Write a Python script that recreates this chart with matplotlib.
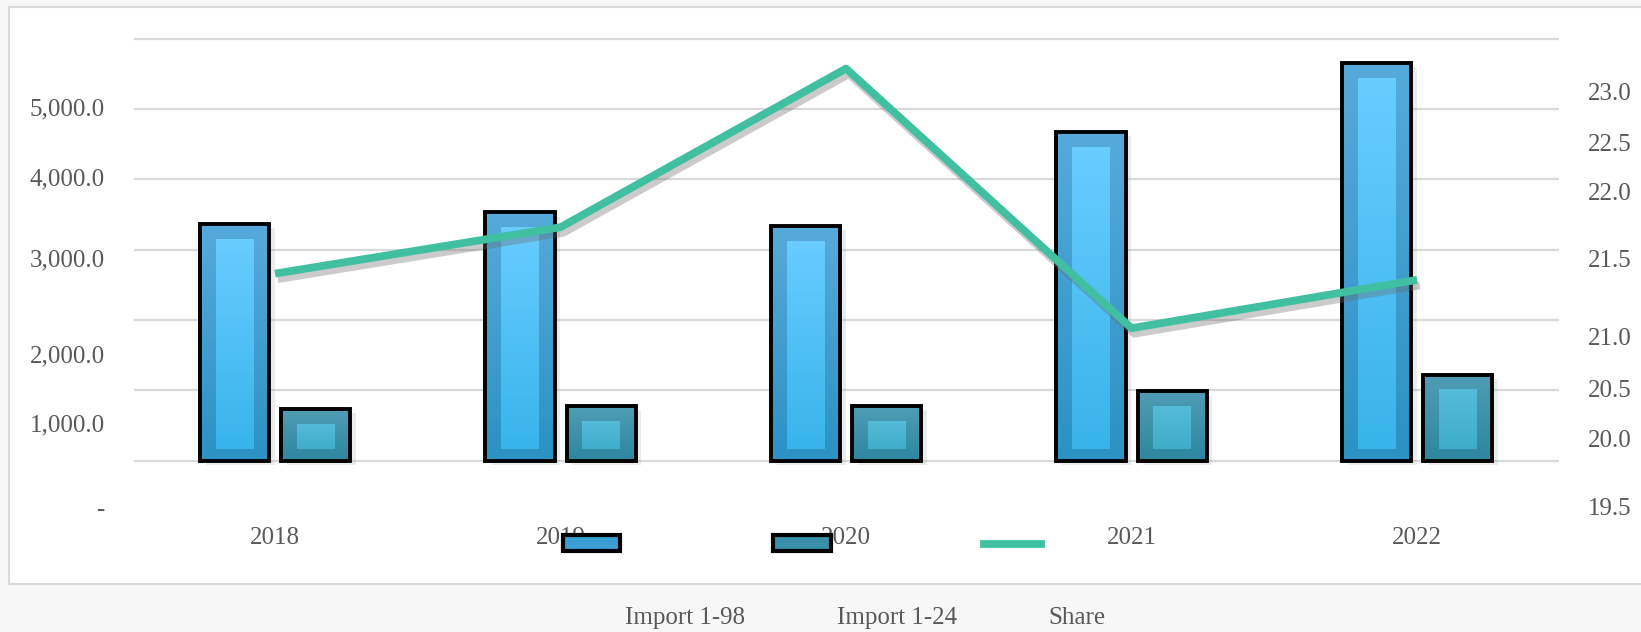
import numpy as np
import matplotlib
matplotlib.use("Agg")
import matplotlib.pyplot as plt
import matplotlib.patheffects as pe
from matplotlib.colors import LinearSegmentedColormap
from matplotlib.patches import Patch, Rectangle
from matplotlib.lines import Line2D

plt.rcParams['font.family'] = ['Liberation Serif', 'DejaVu Serif']

years = ['2018', '2019', '2020', '2021', '2022']
import_198 = [3365, 3528, 3336, 4672, 5653]
import_124 = [735, 778, 778, 984, 1222]
share = [21.40, 21.73, 23.22, 21.05, 21.36]

left_labels = ['5,000.0', '4,000.0', '3,000.0', '2,000.0', '1,000.0', '-']
left_label_pos = [5028, 4033, 2881, 1517, 536, -672]     # as placed in the original
right_ticks = [19.5, 20.0, 20.5, 21.0, 21.5, 22.0, 22.5, 23.0]
# the original's right axis is not linear: knots of its scale (value -> height)
scale_vals = [19.0, 19.5, 20.0, 20.5, 21.0, 21.5, 22.0, 22.5, 23.0, 23.5, 24.0]
scale_h = [-574, -506, -438, -388, -336, -258, -191, -142, -91, -40, 11]

txt = '#595959'
fs = 18

fig = plt.figure(figsize=(16.41, 6.32), dpi=100, facecolor='#f7f7f7')
fig.patches.append(Rectangle((9 / 1641, 48 / 632), 1.0, 577 / 632, transform=fig.transFigure,
                             facecolor='white', edgecolor='#d9d9d9', lw=1.5, zorder=-10))

ax = fig.add_axes([134 / 1641, 112 / 632, 1425 / 1641, 490 / 632])
ax.patch.set_alpha(0)
x = np.arange(len(years))
off, w = 0.142, 0.242
inner_w = 0.133
top_in, bot_in = 213, 170


def grad_fill(a, patch, c_top, c_bot, z):
    cmap = LinearSegmentedColormap.from_list('g', [c_bot, c_top])
    x0, y0 = patch.get_x(), patch.get_y()
    a.imshow(np.linspace(0, 1, 64).reshape(-1, 1), cmap=cmap, origin='lower', aspect='auto',
             extent=[x0, x0 + patch.get_width(), y0, y0 + patch.get_height()], zorder=z)


specs = [(-off, import_198, ('#55aadb', '#2b92c3'), ('#68ccff', '#38b4ea')),
         (off, import_124, ('#4f9db4', '#2d869f'), ('#55bcd8', '#3fadca'))]
for dx, vals, outer, inner in specs:
    # soft shadow behind each bar
    ax.bar(x + dx, vals, w, facecolor='white', edgecolor='none', zorder=1.9,
           path_effects=[pe.SimplePatchShadow(offset=(4, -3), shadow_rgbFace='#999999', alpha=0.18),
                         pe.Normal()])
    bars = ax.bar(x + dx, vals, w, facecolor='none', edgecolor='black', lw=2.8, zorder=4)
    for b in bars:
        grad_fill(ax, b, outer[0], outer[1], 2)
    ins = ax.bar(x + dx, np.array(vals) - top_in - bot_in, inner_w, bottom=bot_in,
                 facecolor='none', edgecolor='none', zorder=3)
    for b in ins:
        grad_fill(ax, b, inner[0], inner[1], 3)

ax.set_xlim(-0.494, 4.497)
ax.set_ylim(-843, 6122)
ax.set_yticks(np.arange(0, 7000, 1000), minor=True)
ax.set_yticks(left_label_pos, left_labels)
ax.grid(which='minor', axis='y', color='#d9d9d9', lw=1.6, zorder=0)
ax.set_axisbelow(True)
ax.set_xticks(x, years)
ax.tick_params(axis='y', which='both', length=0, pad=21, labelsize=fs, labelcolor=txt)
ax.tick_params(axis='x', length=0, pad=5, labelsize=fs, labelcolor=txt)
for s in ax.spines.values():
    s.set_visible(False)

ax2 = ax.twinx()
fwd = lambda v: np.interp(v, scale_vals, scale_h)
inv = lambda h: np.interp(h, scale_h, scale_vals)
ax2.set_yscale('function', functions=(fwd, inv))
ax2.plot(x, share, color='#40c0a0', lw=5.6, solid_capstyle='butt', zorder=5,
         path_effects=[pe.SimpleLineShadow(offset=(2, -4), shadow_color='#6b6b6b', alpha=0.35),
                       pe.Normal()])
ax2.set_ylim(inv(-520), inv(-30))
ax2.set_yticks(right_ticks, ['%.1f' % t for t in right_ticks])
ax2.yaxis.set_minor_locator(matplotlib.ticker.NullLocator())
ax2.tick_params(axis='y', which='both', length=0, pad=21, labelsize=fs, labelcolor=txt)
for s in ax2.spines.values():
    s.set_visible(False)

handles = [Patch(facecolor='#3a9fd3', edgecolor='black', lw=3),
           Patch(facecolor='#3a8fa8', edgecolor='black', lw=3),
           Line2D([], [], color='#40c0a0', lw=5.6)]
fig.legend(handles, ['', '', ''], ncol=3, loc='center', bbox_to_anchor=(802 / 1641, 86 / 632),
           frameon=False, fontsize=17.5, handlelength=2.35, handleheight=0.6,
           handletextpad=0, columnspacing=6.3)
for lab, px in zip(['Import 1-98', 'Import 1-24', 'Share'], [685, 897, 1077]):
    fig.text(px / 1641, 1 - 618 / 632, lab, ha='center', va='center', fontsize=fs, color=txt)

fig.savefig('out.png', dpi=100, facecolor=fig.get_facecolor())
